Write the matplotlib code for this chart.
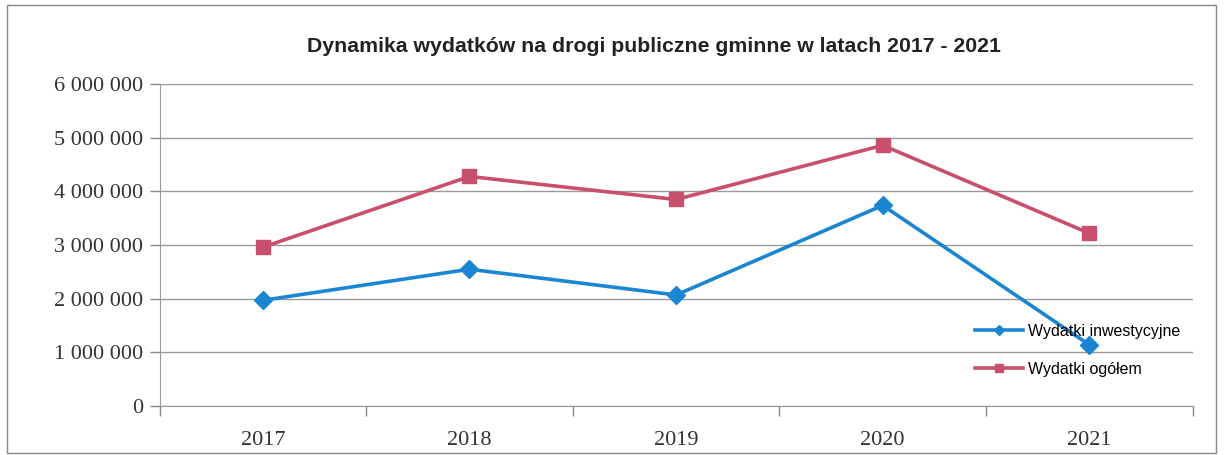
import matplotlib
matplotlib.use("Agg")
import matplotlib.pyplot as plt
from matplotlib.patches import Rectangle
from matplotlib.ticker import FuncFormatter, FixedLocator

years = ["2017", "2018", "2019", "2020", "2021"]
wydatki_inwestycyjne = [1970000, 2550000, 2070000, 3740000, 1140000]
wydatki_ogolem = [2960000, 4280000, 3850000, 4860000, 3220000]

fig = plt.figure(figsize=(12.27, 4.55), dpi=100)
fig.patch.set_facecolor("white")
ax = fig.add_axes([0.130, 0.1077, 0.842, 0.7073])

x = list(range(len(years)))
blue = "#1a86d2"
pink = "#c9506c"
ax.plot(x, wydatki_inwestycyjne, color=blue, lw=2.6, marker="D", ms=9,
        label="Wydatki inwestycyjne", zorder=3)
ax.plot(x, wydatki_ogolem, color=pink, lw=2.6, marker="s", ms=10,
        label="Wydatki ogółem", zorder=3)

ax.set_xlim(-0.5, len(years) - 0.5)
ax.set_ylim(0, 6000000)
ax.set_yticks([i * 1000000 for i in range(7)])
ax.yaxis.set_major_formatter(FuncFormatter(lambda v, p: f"{int(v):,}".replace(",", " ")))
ax.xaxis.set_major_locator(FixedLocator([i - 0.5 for i in range(len(years) + 1)]))
ax.xaxis.set_minor_locator(FixedLocator(x))
ax.set_xticklabels([])
ax.set_xticklabels(years, minor=True)
ax.tick_params(axis="x", which="major", length=7, color="#888888", width=1, direction="out")
ax.tick_params(axis="x", which="minor", length=0, pad=18, labelsize=16, labelcolor="#333333")
ax.tick_params(axis="y", length=7, color="#888888", width=1, labelsize=16, labelcolor="#333333", pad=5)
for lab in ax.get_xticklabels(minor=True) + ax.get_yticklabels():
    lab.set_fontfamily("Liberation Serif")

ax.grid(axis="y", color="#999999", lw=1)
ax.set_axisbelow(True)
for s in ["top", "right"]:
    ax.spines[s].set_visible(False)
ax.spines["left"].set_color("#999999")
ax.spines["bottom"].set_color("#999999")

fig.text(0.533, 0.898, "Dynamika wydatków na drogi publiczne gminne w latach 2017 - 2021",
         ha="center", va="center", fontsize=15.3, fontweight="bold",
         family="Liberation Sans", color="#222222")

leg = ax.legend(loc="upper left", bbox_to_anchor=(0.783, 0.32), bbox_transform=fig.transFigure,
                frameon=False, prop={"family": "Liberation Sans", "size": 11.5},
                handlelength=3.0, handletextpad=0.3, labelspacing=1.45, markerscale=0.6)

fig.patches.append(Rectangle((0.006, 0.005), 0.985, 0.985, transform=fig.transFigure,
                             fill=False, edgecolor="#888888", lw=1))

fig.savefig("out.png", dpi=100)
